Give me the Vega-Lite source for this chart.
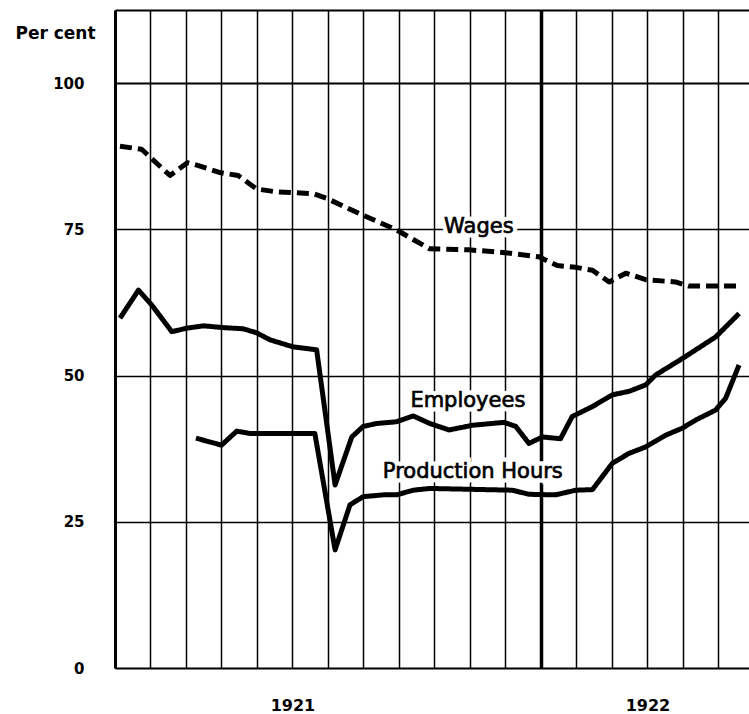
{
  "$schema": "https://vega.github.io/schema/vega-lite/v6.json",
  "width": 634,
  "height": 658,
  "autosize": "none",
  "padding": {"left": 115, "top": 10, "right": 0, "bottom": 46},
  "background": "white",
  "config": {"view": {"stroke": null}},
  "datasets": {
    "series": [
      {"series": "Wages", "month": 0.14, "value": 89.2},
      {"series": "Wages", "month": 0.75, "value": 88.7},
      {"series": "Wages", "month": 1.03, "value": 87.1},
      {"series": "Wages", "month": 1.55, "value": 84.2},
      {"series": "Wages", "month": 2.04, "value": 86.4},
      {"series": "Wages", "month": 2.35, "value": 85.9},
      {"series": "Wages", "month": 2.96, "value": 84.7},
      {"series": "Wages", "month": 3.47, "value": 84.2},
      {"series": "Wages", "month": 3.99, "value": 81.9},
      {"series": "Wages", "month": 4.55, "value": 81.4},
      {"series": "Wages", "month": 5.59, "value": 81.1},
      {"series": "Wages", "month": 5.96, "value": 80.3},
      {"series": "Wages", "month": 6.99, "value": 77.4},
      {"series": "Wages", "month": 7.93, "value": 74.9},
      {"series": "Wages", "month": 8.85, "value": 71.7},
      {"series": "Wages", "month": 9.97, "value": 71.5},
      {"series": "Wages", "month": 11.0, "value": 71.0},
      {"series": "Wages", "month": 11.94, "value": 70.3},
      {"series": "Wages", "month": 12.46, "value": 68.8},
      {"series": "Wages", "month": 12.98, "value": 68.5},
      {"series": "Wages", "month": 13.45, "value": 68.0},
      {"series": "Wages", "month": 13.92, "value": 66.0},
      {"series": "Wages", "month": 14.39, "value": 67.5},
      {"series": "Wages", "month": 14.95, "value": 66.4},
      {"series": "Wages", "month": 15.79, "value": 66.0},
      {"series": "Wages", "month": 16.17, "value": 65.3},
      {"series": "Wages", "month": 17.58, "value": 65.3},
      {"series": "Employees", "month": 0.14, "value": 59.8},
      {"series": "Employees", "month": 0.66, "value": 64.6},
      {"series": "Employees", "month": 1.03, "value": 62.1},
      {"series": "Employees", "month": 1.6, "value": 57.5},
      {"series": "Employees", "month": 2.02, "value": 58.1},
      {"series": "Employees", "month": 2.49, "value": 58.5},
      {"series": "Employees", "month": 3.05, "value": 58.2},
      {"series": "Employees", "month": 3.61, "value": 58.0},
      {"series": "Employees", "month": 3.99, "value": 57.3},
      {"series": "Employees", "month": 4.37, "value": 56.1},
      {"series": "Employees", "month": 5.02, "value": 54.9},
      {"series": "Employees", "month": 5.68, "value": 54.4},
      {"series": "Employees", "month": 6.2, "value": 31.3},
      {"series": "Employees", "month": 6.67, "value": 39.5},
      {"series": "Employees", "month": 6.99, "value": 41.3},
      {"series": "Employees", "month": 7.37, "value": 41.8},
      {"series": "Employees", "month": 7.93, "value": 42.1},
      {"series": "Employees", "month": 8.4, "value": 43.1},
      {"series": "Employees", "month": 8.87, "value": 41.8},
      {"series": "Employees", "month": 9.41, "value": 40.7},
      {"series": "Employees", "month": 10.07, "value": 41.5},
      {"series": "Employees", "month": 10.96, "value": 42.0},
      {"series": "Employees", "month": 11.29, "value": 41.3},
      {"series": "Employees", "month": 11.66, "value": 38.4},
      {"series": "Employees", "month": 12.04, "value": 39.5},
      {"series": "Employees", "month": 12.55, "value": 39.2},
      {"series": "Employees", "month": 12.88, "value": 43.0},
      {"series": "Employees", "month": 13.45, "value": 44.7},
      {"series": "Employees", "month": 14.01, "value": 46.7},
      {"series": "Employees", "month": 14.48, "value": 47.3},
      {"series": "Employees", "month": 14.95, "value": 48.4},
      {"series": "Employees", "month": 15.23, "value": 50.1},
      {"series": "Employees", "month": 15.98, "value": 52.9},
      {"series": "Employees", "month": 16.92, "value": 56.6},
      {"series": "Employees", "month": 17.58, "value": 60.6},
      {"series": "Production Hours", "month": 2.28, "value": 39.3},
      {"series": "Production Hours", "month": 3.0, "value": 38.1},
      {"series": "Production Hours", "month": 3.43, "value": 40.5},
      {"series": "Production Hours", "month": 3.8, "value": 40.1},
      {"series": "Production Hours", "month": 4.55, "value": 40.1},
      {"series": "Production Hours", "month": 5.63, "value": 40.1},
      {"series": "Production Hours", "month": 6.2, "value": 20.2},
      {"series": "Production Hours", "month": 6.62, "value": 27.9},
      {"series": "Production Hours", "month": 6.99, "value": 29.3},
      {"series": "Production Hours", "month": 7.56, "value": 29.6},
      {"series": "Production Hours", "month": 7.93, "value": 29.6},
      {"series": "Production Hours", "month": 8.4, "value": 30.4},
      {"series": "Production Hours", "month": 8.87, "value": 30.7},
      {"series": "Production Hours", "month": 11.19, "value": 30.4},
      {"series": "Production Hours", "month": 11.66, "value": 29.7},
      {"series": "Production Hours", "month": 12.41, "value": 29.6},
      {"series": "Production Hours", "month": 12.98, "value": 30.4},
      {"series": "Production Hours", "month": 13.45, "value": 30.5},
      {"series": "Production Hours", "month": 14.01, "value": 35.0},
      {"series": "Production Hours", "month": 14.48, "value": 36.7},
      {"series": "Production Hours", "month": 14.95, "value": 37.8},
      {"series": "Production Hours", "month": 15.51, "value": 39.8},
      {"series": "Production Hours", "month": 15.98, "value": 41.0},
      {"series": "Production Hours", "month": 16.36, "value": 42.4},
      {"series": "Production Hours", "month": 16.92, "value": 44.1},
      {"series": "Production Hours", "month": 17.2, "value": 46.1},
      {"series": "Production Hours", "month": 17.58, "value": 51.8}
    ],
    "labels": [
      {"label": "Wages", "month": 10.25, "value": 74.4},
      {"label": "Employees", "month": 9.94, "value": 44.6},
      {"label": "Production Hours", "month": 10.08, "value": 32.5}
    ]
  },
  "encoding": {
    "x": {
      "field": "month",
      "type": "quantitative",
      "scale": {"domain": [0, 17.86], "nice": false, "zero": false},
      "axis": {
        "title": null,
        "values": [0, 1, 2, 3, 4, 5, 6, 7, 8, 9, 10, 11, 12, 13, 14, 15, 16, 17],
        "labelExpr": "datum.value == 5 ? '1921' : datum.value == 15 ? '1922' : ''",
        "labelFont": "DejaVu Sans",
        "labelFontWeight": "bold",
        "labelFontSize": 16,
        "labelColor": "black",
        "labelPadding": 29,
        "labelBaseline": "top",
        "labelFlush": false,
        "labelOverlap": false,
        "ticks": false,
        "domain": false,
        "grid": true,
        "gridColor": "black",
        "gridOpacity": 1,
        "gridWidth": {"condition": {"test": "datum.value == 12", "value": 3.5}, "value": 1.5}
      }
    },
    "y": {
      "field": "value",
      "type": "quantitative",
      "scale": {"domain": [0, 112.5], "nice": false, "zero": true},
      "axis": {
        "title": "Per cent",
        "titleAngle": 0,
        "titleX": -60,
        "titleY": 23,
        "titleAlign": "center",
        "titleBaseline": "middle",
        "titleFont": "DejaVu Sans",
        "titleFontWeight": "bold",
        "titleFontSize": 17,
        "titleColor": "black",
        "values": [0, 25, 50, 75, 100, 112.5],
        "labelExpr": "datum.value > 110 ? '' : datum.label",
        "labelFont": "DejaVu Sans",
        "labelFontWeight": "bold",
        "labelFontSize": 15,
        "labelColor": "black",
        "labelPadding": 31,
        "labelBaseline": "middle",
        "labelFlush": false,
        "labelOverlap": false,
        "ticks": false,
        "domain": true,
        "domainColor": "black",
        "domainWidth": 3,
        "grid": true,
        "gridColor": "black",
        "gridOpacity": 1,
        "gridWidth": {"condition": {"test": "datum.value == 0 || datum.value >= 100", "value": 2.2}, "value": 1.5}
      }
    }
  },
  "layer": [
    {
      "data": {"name": "series"},
      "mark": {"type": "line", "color": "black", "strokeWidth": 5, "strokeCap": "butt", "strokeJoin": "round"},
      "encoding": {
        "detail": {"field": "series", "type": "nominal"},
        "strokeDash": {
          "field": "series",
          "type": "nominal",
          "scale": {"domain": ["Wages", "Employees", "Production Hours"], "range": [[12, 6], [1, 0], [1, 0]]},
          "legend": null
        }
      }
    },
    {
      "data": {"name": "labels"},
      "mark": {"type": "text", "font": "DejaVu Sans", "fontSize": 21, "align": "center", "baseline": "alphabetic", "fill": "white", "stroke": "white", "strokeWidth": 9},
      "encoding": {"text": {"field": "label", "type": "nominal"}}
    },
    {
      "data": {"name": "labels"},
      "mark": {"type": "text", "font": "DejaVu Sans", "fontSize": 21, "align": "center", "baseline": "alphabetic", "fill": "black", "stroke": "black", "strokeWidth": 0.7},
      "encoding": {"text": {"field": "label", "type": "nominal"}}
    }
  ]
}
